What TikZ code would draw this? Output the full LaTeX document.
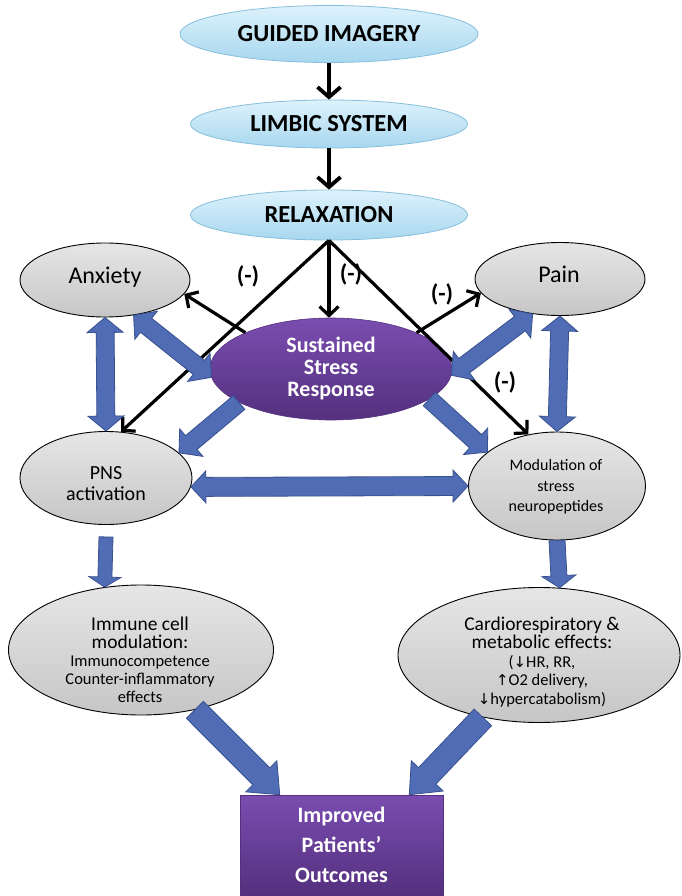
\documentclass[tikz,border=0pt]{standalone}
\usepackage{fontspec}
\setmainfont{Carlito}
\newfontfamily\arrfont{DejaVu Sans}
\usetikzlibrary{shapes.geometric,arrows.meta,calc}
\definecolor{bfill}{HTML}{4F6CB5}
\definecolor{bline}{HTML}{39518F}
\definecolor{cyanT}{HTML}{DDF2FC}
\definecolor{cyanB}{HTML}{A8D7EF}
\definecolor{cyanL}{HTML}{86BEDB}
\definecolor{grayT}{HTML}{E6E6E6}
\definecolor{grayB}{HTML}{C6C6C6}
\definecolor{purT}{HTML}{7A4DB0}
\definecolor{purB}{HTML}{54307E}
% single block arrow: start, end, half shaft, half head, head length
\newcommand{\bluearrow}[5]{%
  \path (#1) coordinate (ba-s) (#2) coordinate (ba-e);
  \path ($(ba-e)!#5!(ba-s)$) coordinate (ba-c);
  \draw[bluearr] ($(ba-s)!#3!90:(ba-e)$) -- ($(ba-c)!#3!90:(ba-e)$) -- ($(ba-c)!#4!90:(ba-e)$) -- (ba-e)
    -- ($(ba-c)!#4!-90:(ba-e)$) -- ($(ba-c)!#3!-90:(ba-e)$) -- ($(ba-s)!#3!-90:(ba-e)$) -- cycle;}
% double block arrow
\newcommand{\bluedarrow}[5]{%
  \path (#1) coordinate (ba-s) (#2) coordinate (ba-e);
  \path ($(ba-s)!#5!(ba-e)$) coordinate (ba-c1) ($(ba-e)!#5!(ba-s)$) coordinate (ba-c2);
  \draw[bluearr] (ba-s) -- ($(ba-c1)!#4!90:(ba-e)$) -- ($(ba-c1)!#3!90:(ba-e)$) -- ($(ba-c2)!#3!90:(ba-e)$)
    -- ($(ba-c2)!#4!90:(ba-e)$) -- (ba-e) -- ($(ba-c2)!#4!-90:(ba-e)$) -- ($(ba-c2)!#3!-90:(ba-e)$)
    -- ($(ba-c1)!#3!-90:(ba-e)$) -- ($(ba-c1)!#4!-90:(ba-e)$) -- cycle;}
\begin{document}
\begin{tikzpicture}[x=1pt,y=-1pt,
  topell/.style={ellipse, draw=cyanL, line width=0.8pt, top color=cyanT, bottom color=cyanB,
    inner sep=0pt, font=\fontsize{24.5}{24.5}\selectfont\bfseries},
  grayell/.style={ellipse, draw=black, line width=0.9pt, top color=grayT, bottom color=grayB, inner sep=0pt},
  blk/.style={line width=3.2pt, -{Straight Barb[length=9pt,width=19pt]}},
  blkv/.style={line width=3.8pt, -{Straight Barb[length=10pt,width=23pt]}},
  bluearr/.style={fill=bfill, draw=bline, line width=0.8pt, line join=miter},
  minus/.style={font=\fontsize{24}{24}\selectfont\bfseries},
  lbl/.style={align=center, inner sep=0pt}]
\useasboundingbox (0,0) rectangle (681,896);
\fill[white] (0,0) rectangle (681,896);

% top chain
\node[topell, minimum width=298pt, minimum height=57pt] (gi) at (329,34) {GUIDED IMAGERY};
\node[topell, minimum width=277pt, minimum height=48pt] (ls) at (329,124) {LIMBIC SYSTEM};
\node[topell, minimum width=277pt, minimum height=50pt] (relax) at (329,215) {RELAXATION};
\draw[blkv] (gi.south) -- (ls.north);
\draw[blkv] (ls.south) -- (relax.north);

% gray ellipses
\node[grayell, minimum width=170pt, minimum height=74pt] (anx) at (105,280) {};
\node[lbl, anchor=base, font=\fontsize{24}{24}\selectfont] (anxT) at (105,283) {Anxiety};
\node[grayell, minimum width=170pt, minimum height=73pt] (pain) at (560,279) {};
\node[lbl, anchor=base, font=\fontsize{24}{24}\selectfont] (painT) at (559,282) {Pain};
\node[grayell, minimum width=172pt, minimum height=93pt] (pns) at (106,478) {};
\node[lbl, font=\fontsize{20}{21}\selectfont] (pnsT) at (106,484) {PNS\\activation};
\node[grayell, minimum width=177pt, minimum height=108pt] (mod) at (557,486) {};
\node[lbl, font=\fontsize{16}{20.5}\selectfont] (modT) at (556,487) {Modulation of\\stress\\neuropeptides};
\node[grayell, minimum width=265pt, minimum height=130pt] (imm) at (141,650) {};
\node[lbl, font=\fontsize{16.5}{18}\selectfont] (immT) at (140,660)
  {{\fontsize{19.5}{18}\selectfont Immune cell}\\{\fontsize{19.5}{18}\selectfont modulation:}\\Immunocompetence\\Counter-inflammatory\\effects};
\node[grayell, minimum width=282pt, minimum height=135pt] (card) at (539,655) {};
\node[lbl, font=\fontsize{16.5}{18.5}\selectfont] (cardT) at (542,662)
  {{\fontsize{19.5}{18.5}\selectfont Cardiorespiratory \&}\\{\fontsize{19.5}{18.5}\selectfont metabolic effects:}\\({\arrfont\fontsize{15}{18.5}\selectfont ↓}HR, RR,\hspace{30pt}\\{\arrfont\fontsize{15}{18.5}\selectfont ↑}O2 delivery,\\{\arrfont\fontsize{15}{18.5}\selectfont ↓}hypercatabolism)};

% sustained stress response
\node[ellipse, top color=purT, bottom color=purB, draw=purB, line width=0.6pt,
  minimum width=242pt, minimum height=102pt, inner sep=0pt] (ssr) at (331,369) {};
\node[lbl, text=white, font=\fontsize{22}{22}\selectfont\bfseries] (ssrT) at (331,369) {Sustained\\Stress\\Response};

% improved outcomes
\node[rectangle, top color=purT, bottom color=purB, draw=purB, line width=0.6pt,
  minimum width=203pt, minimum height=100pt, inner sep=0pt, text=white, align=center,
  font=\fontsize{22}{30}\selectfont\bfseries] (imp) at (341.5,845) {Improved\\Patients’\\Outcomes};

% black inhibitory arrows
\draw[blk] (relax.south) -- (relax.south |- ssr.north);
\draw[blk] (relax.south) -- (pns.72);
\draw[blk] (relax.south) -- (mod.119);
\draw[blk] (ssr.157) -- (anx.-10);
\draw[blk] (ssr.23) -- (pain.190);
\node[minus] (m1) at (248,276) {(-)};
\node[minus] (m2) at (351,274) {(-)};
\node[minus] (m3) at (442,294) {(-)};
\node[minus] (m4) at (505,382) {(-)};

% blue block arrows
\bluedarrow{anx.south}{pns.north}{9pt}{18pt}{15pt}
\bluedarrow{anx.-51}{ssr.184}{9pt}{18pt}{16pt}
\bluearrow{ssr.200}{pns.19}{9pt}{18pt}{16pt}
\bluedarrow{pain.-128}{ssr.-3}{9pt}{18pt}{16pt}
\bluedarrow{pain.south}{mod.north}{9pt}{18pt}{15pt}
\bluearrow{ssr.-17}{mod.154}{9pt}{18pt}{16pt}
\bluedarrow{pns.-6}{mod.west}{9.5pt}{16pt}{15pt}
\bluearrow{$(pns.south)+(0,12)$}{imm.120}{7pt}{16pt}{10pt}
\bluearrow{mod.south}{card.73}{8pt}{17pt}{12pt}
\bluearrow{imm.-48}{$(imp.north west)+(40,0)$}{12pt}{22pt}{26pt}
\bluearrow{card.228}{$(imp.north east)+(-34,0)$}{12pt}{22pt}{26pt}
\end{tikzpicture}
\end{document}
